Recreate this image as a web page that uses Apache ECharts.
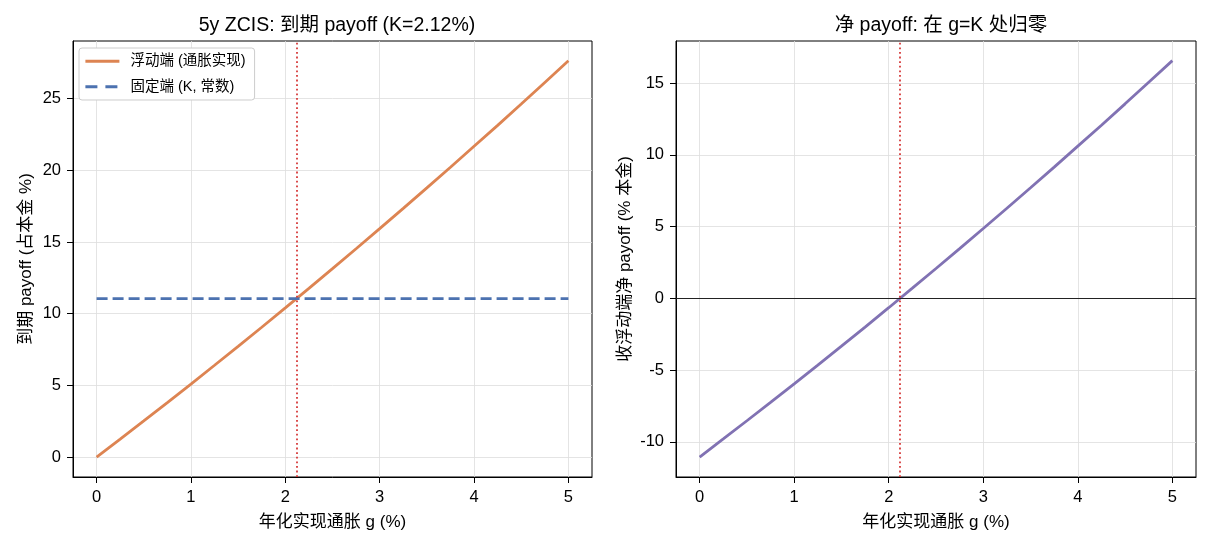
<!DOCTYPE html>
<html>
<head>
<meta charset="utf-8">
<script src="https://cdn.jsdelivr.net/npm/echarts@6/dist/echarts.min.js"></script>
<style>
	html, body { margin: 0; padding: 0; background: #fff; }
	#chart { width: 1208px; height: 546px; }
</style>
</head>
<body>
<div id="chart"></div>
<script>
// realised annual inflation g (%)
var gValues = [0, 0.25, 0.5, 0.75, 1, 1.25, 1.5, 1.75, 2, 2.25, 2.5, 2.75, 3, 3.25, 3.5, 3.75, 4, 4.25, 4.5, 4.75, 5];
// floating leg payoff at maturity (% of notional)
var floatingLeg = [0, 1.26, 2.53, 3.81, 5.10, 6.41, 7.73, 9.06, 10.41, 11.77, 13.14, 14.53, 15.93, 17.34, 18.77, 20.21, 21.67, 23.13, 24.62, 26.12, 27.63];
// fixed leg payoff (constant)
var fixedLeg = [11.06, 11.06, 11.06, 11.06, 11.06, 11.06, 11.06, 11.06, 11.06, 11.06, 11.06, 11.06, 11.06, 11.06, 11.06, 11.06, 11.06, 11.06, 11.06, 11.06, 11.06];
// net payoff for receiver of floating
var netPayoff = [-11.06, -9.80, -8.53, -7.25, -5.96, -4.65, -3.33, -2.00, -0.65, 0.71, 2.08, 3.47, 4.87, 6.28, 7.71, 9.15, 10.61, 12.07, 13.56, 15.06, 16.57];
var strikeK = 2.12;
var xTicks = [0, 1, 2, 3, 4, 5];
var yTicksLeft = [0, 5, 10, 15, 20, 25];
var yTicksRight = [-10, -5, 0, 5, 10, 15];

var FONT = '"Liberation Sans", Arial, "Noto Sans CJK SC", sans-serif';
var RED = '#d63a3a';

function pairs(xs, ys) {
	var out = [];
	for (var i = 0; i < xs.length; i++) out.push([xs[i], ys[i]]);
	return out;
}

function xAxisCfg(gridIndex) {
	return {
		type: 'value',
		gridIndex: gridIndex,
		min: -0.25,
		max: 5.25,
		name: '年化实现通胀 g (%)',
		nameLocation: 'middle',
		nameGap: 37,
		nameTextStyle: { fontFamily: FONT, fontSize: 17, color: '#000' },
		axisLine: { show: true, onZero: false, lineStyle: { color: '#000', width: 1 } },
		axisTick: { show: true, length: 6, customValues: xTicks, lineStyle: { color: '#000' } },
		axisLabel: { customValues: xTicks, fontFamily: FONT, fontSize: 16.5, color: '#000', margin: 12 },
		splitLine: { show: true, lineStyle: { color: '#dddddd', width: 0.8 } }
	};
}

function yAxisCfg(gridIndex, min, max, ticks, name, gap) {
	return {
		type: 'value',
		gridIndex: gridIndex,
		min: min,
		max: max,
		name: name,
		nameLocation: 'middle',
		nameGap: gap,
		nameTextStyle: { fontFamily: FONT, fontSize: 17, color: '#000' },
		axisLine: { show: true, onZero: false, lineStyle: { color: '#000', width: 1 } },
		axisTick: { show: true, length: 6, customValues: ticks, lineStyle: { color: '#000' } },
		axisLabel: { customValues: ticks, fontFamily: FONT, fontSize: 16.5, color: '#000', margin: 12 },
		splitLine: { show: true, lineStyle: { color: '#dddddd', width: 0.8 } }
	};
}

var myChart = echarts.init(document.getElementById('chart'), null, { renderer: 'canvas' });

var option = {
	animation: false,
	backgroundColor: '#fff',
	textStyle: { fontFamily: FONT },
	title: [
		{ text: '5y ZCIS: 到期 payoff (K=2.12%)', left: 332, top: 11, textAlign: 'center',
		  textStyle: { fontFamily: FONT, fontSize: 19.5, fontWeight: 'normal', color: '#000' } },
		{ text: '净 payoff: 在 g=K 处归零', left: 936, top: 11, textAlign: 'center',
		  textStyle: { fontFamily: FONT, fontSize: 19.5, fontWeight: 'normal', color: '#000' } }
	],
	legend: {
		left: 79,
		top: 48,
		orient: 'vertical',
		itemWidth: 34,
		itemHeight: 14,
		itemGap: 11,
		padding: [6, 9, 6, 5],
		backgroundColor: '#fff',
		borderColor: '#cccccc',
		borderWidth: 1,
		borderRadius: 3,
		itemStyle: { opacity: 0 },
		textStyle: { fontFamily: FONT, fontSize: 14.5, color: '#000', padding: [0, 0, 0, 6] },
		data: [
			{ name: '浮动端 (通胀实现)', lineStyle: { width: 2.8 } },
			{ name: '固定端 (K, 常数)', lineStyle: { width: 2.8, type: [12, 8] } }
		]
	},
	grid: [
		{ left: 73, right: 616, top: 41, bottom: 69, show: true, borderColor: '#000', borderWidth: 1, backgroundColor: 'transparent' },
		{ left: 676, right: 12, top: 41, bottom: 69, show: true, borderColor: '#000', borderWidth: 1, backgroundColor: 'transparent' }
	],
	xAxis: [xAxisCfg(0), xAxisCfg(1)],
	yAxis: [
		yAxisCfg(0, -1.38, 29.01, yTicksLeft, '到期 payoff (占本金 %)', 38),
		yAxisCfg(1, -12.45, 17.94, yTicksRight, '收浮动端净 payoff (% 本金)', 42)
	],
	series: [
		{
			name: '浮动端 (通胀实现)',
			type: 'line',
			xAxisIndex: 0, yAxisIndex: 0,
			symbol: 'none',
			color: '#dd8452',
			lineStyle: { color: '#dd8452', width: 2.8 },
			data: pairs(gValues, floatingLeg),
			markLine: {
				silent: true,
				symbol: 'none',
				label: { show: false },
				lineStyle: { color: RED, type: [1.8, 2.8], width: 1.8 },
				data: [{ xAxis: strikeK }]
			},
			z: 3
		},
		{
			name: '固定端 (K, 常数)',
			type: 'line',
			xAxisIndex: 0, yAxisIndex: 0,
			symbol: 'none',
			color: '#4c72b0',
			lineStyle: { color: '#4c72b0', width: 2.8, type: [11, 5] },
			data: pairs(gValues, fixedLeg),
			z: 3
		},
		{
			name: 'net',
			type: 'line',
			xAxisIndex: 1, yAxisIndex: 1,
			symbol: 'none',
			color: '#8172b3',
			lineStyle: { color: '#8172b3', width: 2.8 },
			data: pairs(gValues, netPayoff),
			markLine: {
				silent: true,
				symbol: 'none',
				label: { show: false },
				data: [
					{ yAxis: 0, lineStyle: { color: '#222', type: 'solid', width: 1 } },
					{ xAxis: strikeK, lineStyle: { color: RED, type: [1.8, 2.8], width: 1.8 } }
				]
			},
			z: 3
		}
	]
};

myChart.setOption(option);
</script>
</body>
</html>
